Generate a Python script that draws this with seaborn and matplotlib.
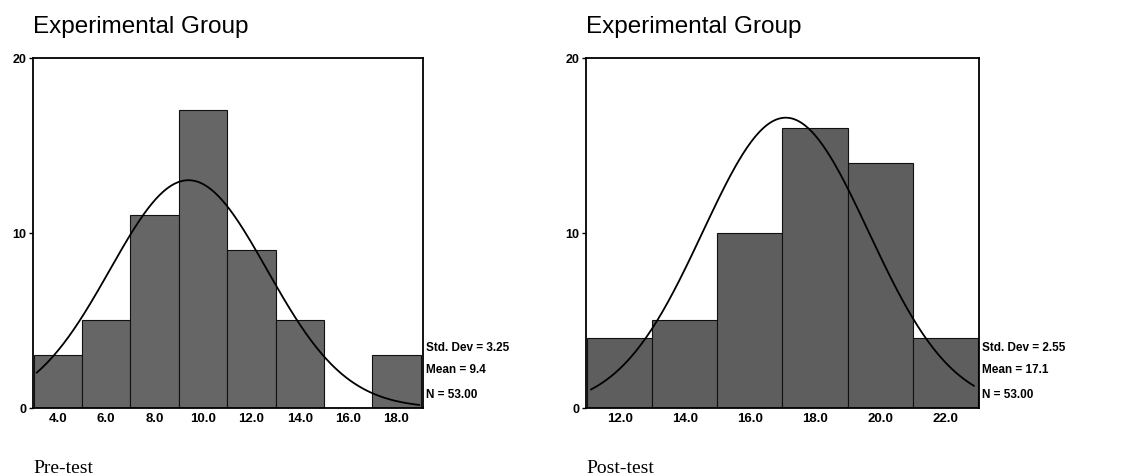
import numpy as np
import pandas as pd
import seaborn as sns
import matplotlib
matplotlib.use("Agg")
import matplotlib.pyplot as plt

# ---- data ----
pre_edges = [3, 5, 7, 9, 11, 13, 15, 17, 19]
pre_counts = [3, 5, 11, 17, 9, 5, 0, 3]
pre_ticks = [4.0, 6.0, 8.0, 10.0, 12.0, 14.0, 16.0, 18.0]
pre_stats = {"sd": 3.25, "mean": 9.4, "n": 53.00}

post_edges = [11, 13, 15, 17, 19, 21, 23]
post_counts = [4, 5, 10, 16, 14, 4]
post_ticks = [12.0, 14.0, 16.0, 18.0, 20.0, 22.0]
post_stats = {"sd": 2.55, "mean": 17.1, "n": 53.00}

title = "Experimental Group"
labels = ["Pre-test", "Post-test"]

sns.set_style("white")
plt.rcParams['font.family'] = ['Liberation Sans', 'DejaVu Sans']
plt.rcParams['text.color'] = 'black'
plt.rcParams['xtick.color'] = 'black'
plt.rcParams['ytick.color'] = 'black'

fig = plt.figure(figsize=(11.21, 4.77), dpi=100)

panels = [
    (0.0294, 0.348, pre_edges, pre_counts, pre_ticks, pre_stats, (2.97, 19.1), labels[0], "{:.1f}", "#666666"),
    (0.5227, 0.3506, post_edges, post_counts, post_ticks, post_stats, (10.96, 23.04), labels[1], "{:.1f}", "#5e5e5e"),
]

for left, width, edges, counts, ticks, st, xlim, lab, mfmt, col in panels:
    ax = fig.add_axes([left, 0.1426, width, 0.734])
    e = np.array(edges, dtype=float)
    centers = (e[:-1] + e[1:]) / 2
    df = pd.DataFrame({"x": centers, "w": np.array(counts, dtype=float)})
    sns.histplot(data=df, x="x", weights="w", bins=list(map(float, edges)), ax=ax,
                 color=col, alpha=1.0, edgecolor="#111111", linewidth=0.8)
    bw = e[1] - e[0]
    xs = np.linspace(xlim[0] + 0.15, xlim[1] - 0.15, 300)
    ys = st["n"] * bw / (st["sd"] * np.sqrt(2 * np.pi)) * np.exp(-0.5 * ((xs - st["mean"]) / st["sd"]) ** 2)
    sns.lineplot(x=xs, y=ys, ax=ax, color="black", linewidth=1.3)
    ax.set_xlim(*xlim)
    ax.set_ylim(0, 20)
    ax.set_xticks(ticks)
    ax.set_xticklabels(["{:.1f}".format(t) for t in ticks], fontweight="bold", fontsize=9.5)
    ax.set_yticks([0, 10, 20])
    ax.set_yticklabels(["0", "10", "20"], fontweight="bold", fontsize=9)
    ax.tick_params(axis="y", length=3, width=1, pad=2, direction="out", left=True)
    ax.tick_params(axis="x", length=0, pad=3)
    ax.set_xlabel("")
    ax.set_ylabel("")
    for s in ax.spines.values():
        s.set_visible(True)
        s.set_color("black")
        s.set_linewidth(1.3)
    ax.text(0.0, 1.06, title, transform=ax.transAxes, fontsize=17.5, ha="left", va="bottom")
    ax.text(1.008, 0.175, "Std. Dev = {:.2f}".format(st["sd"]), transform=ax.transAxes,
            fontsize=8.5, fontweight="bold", ha="left", va="center")
    ax.text(1.008, 0.11, "Mean = " + mfmt.format(st["mean"]), transform=ax.transAxes,
            fontsize=8.5, fontweight="bold", ha="left", va="center")
    ax.text(1.008, 0.04, "N = {:.2f}".format(st["n"]), transform=ax.transAxes,
            fontsize=8.5, fontweight="bold", ha="left", va="center")
    fig.text(left, 1 - 469 / 477, lab, fontsize=14, family="Liberation Serif",
             ha="left", va="center")

fig.savefig("out.png", dpi=100)
